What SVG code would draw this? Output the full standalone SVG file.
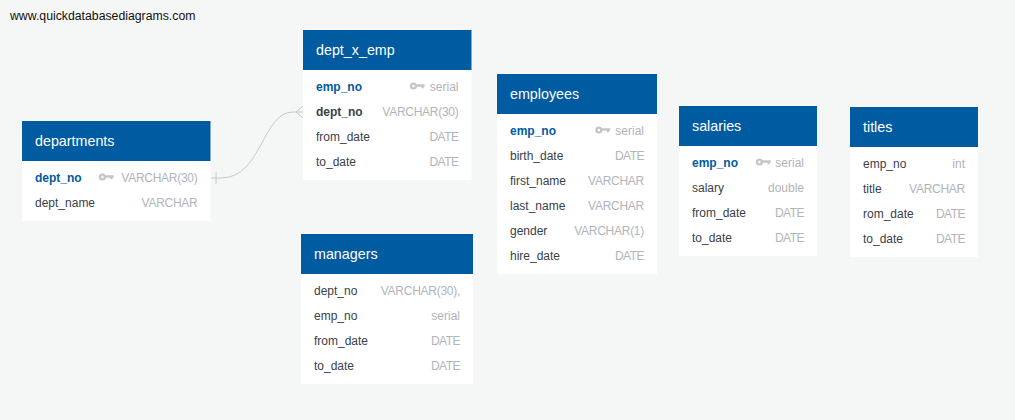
<svg xmlns="http://www.w3.org/2000/svg" xmlns:xlink="http://www.w3.org/1999/xlink" width="1015" height="420" viewBox="0 0 1015 420">
<style>
text{font-family:"Liberation Sans",Arial,sans-serif}
.bg{fill:#f5f7f7}
.body{fill:#fff}
.head{fill:#005ba1}
.title{fill:#fff;font-size:14.3px}
.f{fill:#3a414a;font-size:12px}
.pk{fill:#005ba1;font-size:12px;font-weight:bold}
.fk{fill:#3a414a;font-size:12px;font-weight:bold}
.t{fill:#b1b4b9;font-size:12px;text-anchor:end}
.v{letter-spacing:-.27px}
.d{letter-spacing:-.5px}
.url{fill:#111;font-size:12.27px}
.c{fill:none;stroke:#c8caca;stroke-width:1}
</style>
<defs>
<g id="key"><circle cx="3.4" cy="0" r="2.4" fill="none" stroke="#c3c6ca" stroke-width="2.4"/><path d="M6 -1.7H14.7V0.8H13.6V2.3H11.4V0.8H6Z" fill="#c3c6ca"/></g>
</defs>
<rect class="bg" width="1015" height="420"/>
<text class="url" x="10" y="20">www.quickdatabasediagrams.com</text>
<g id="connectors">
<path class="c" d="M211 178H221C262 178 262 112 293 112H303"/>
<path class="c" d="M216 172V184"/>
<path class="c" d="M296 112L303 106M296 112L303 118"/>
</g>
<g id="departments">
<rect class="body" x="22" y="121" width="188.500" height="100"/><rect class="head" x="22" y="121" width="188.500" height="40"/>
<text class="title" x="35" y="146">departments</text>
<text class="pk" x="35" y="182">dept_no</text><use xlink:href="#key" href="#key" x="99" y="177"/><text class="t v" x="197.500" y="182">VARCHAR(30)</text>
<text class="f" x="35" y="207">dept_name</text><text class="t v" x="197.500" y="207">VARCHAR</text>
</g>
<g id="dept_x_emp">
<rect class="body" x="303" y="30" width="168.500" height="150"/><rect class="head" x="303" y="30" width="168.500" height="40"/>
<text class="title" x="316" y="55">dept_x_emp</text>
<text class="pk" x="316" y="91">emp_no</text><use xlink:href="#key" href="#key" x="410" y="86"/><text class="t" x="458.500" y="91">serial</text>
<text class="fk" x="316" y="116">dept_no</text><text class="t v" x="458.500" y="116">VARCHAR(30)</text>
<text class="f" x="316" y="141">from_date</text><text class="t d" x="458.500" y="141">DATE</text>
<text class="f" x="316" y="166">to_date</text><text class="t d" x="458.500" y="166">DATE</text>
</g>
<g id="managers">
<rect class="body" x="301" y="234" width="172" height="150"/><rect class="head" x="301" y="234" width="172" height="40"/>
<text class="title" x="314" y="259">managers</text>
<text class="f" x="314" y="295">dept_no</text><text class="t v" x="460" y="295">VARCHAR(30),</text>
<text class="f" x="314" y="320">emp_no</text><text class="t" x="460" y="320">serial</text>
<text class="f" x="314" y="345">from_date</text><text class="t d" x="460" y="345">DATE</text>
<text class="f" x="314" y="370">to_date</text><text class="t d" x="460" y="370">DATE</text>
</g>
<g id="employees">
<rect class="body" x="497" y="74" width="160" height="200"/><rect class="head" x="497" y="74" width="160" height="40"/>
<text class="title" x="510" y="99">employees</text>
<text class="pk" x="510" y="135">emp_no</text><use xlink:href="#key" href="#key" x="595.500" y="130"/><text class="t" x="644" y="135">serial</text>
<text class="f" x="510" y="160">birth_date</text><text class="t d" x="644" y="160">DATE</text>
<text class="f" x="510" y="185">first_name</text><text class="t v" x="644" y="185">VARCHAR</text>
<text class="f" x="510" y="210">last_name</text><text class="t v" x="644" y="210">VARCHAR</text>
<text class="f" x="510" y="235">gender</text><text class="t v" x="644" y="235">VARCHAR(1)</text>
<text class="f" x="510" y="260">hire_date</text><text class="t d" x="644" y="260">DATE</text>
</g>
<g id="salaries">
<rect class="body" x="679" y="106" width="138" height="150"/><rect class="head" x="679" y="106" width="138" height="40"/>
<text class="title" x="692" y="131">salaries</text>
<text class="pk" x="692" y="167">emp_no</text><use xlink:href="#key" href="#key" x="756" y="162"/><text class="t" x="804" y="167">serial</text>
<text class="f" x="692" y="192">salary</text><text class="t" x="804" y="192">double</text>
<text class="f" x="692" y="217">from_date</text><text class="t d" x="804" y="217">DATE</text>
<text class="f" x="692" y="242">to_date</text><text class="t d" x="804" y="242">DATE</text>
</g>
<g id="titles">
<rect class="body" x="850" y="107" width="128" height="150"/><rect class="head" x="850" y="107" width="128" height="40"/>
<text class="title" x="863" y="132">titles</text>
<text class="f" x="863" y="168">emp_no</text><text class="t" x="965" y="168">int</text>
<text class="f" x="863" y="193">title</text><text class="t v" x="965" y="193">VARCHAR</text>
<text class="f" x="863" y="218">rom_date</text><text class="t d" x="965" y="218">DATE</text>
<text class="f" x="863" y="243">to_date</text><text class="t d" x="965" y="243">DATE</text>
</g>
</svg>
